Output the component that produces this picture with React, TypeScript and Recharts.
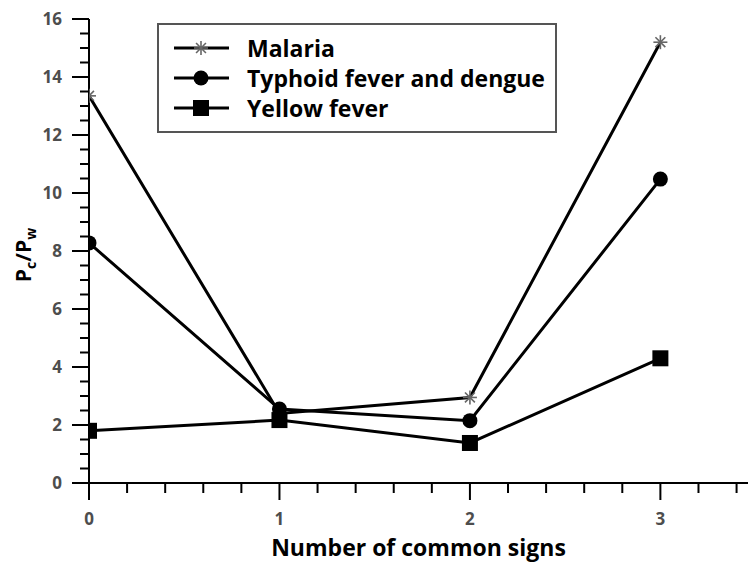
import { Legend, Line, LineChart, XAxis, YAxis } from "recharts";

const signs = [0, 1, 2, 3];
const malaria = [13.35, 2.4, 2.95, 15.2];
const typhoid = [8.28, 2.55, 2.15, 10.48];
const yellowFever = [1.8, 2.17, 1.38, 4.3];

const xTicks = [0, 0.2, 0.4, 0.6, 0.8, 1, 1.2, 1.4, 1.6, 1.8, 2, 2.2, 2.4, 2.6, 2.8, 3, 3.2, 3.4];
const yTicks = [
  0, 0.5, 1, 1.5, 2, 2.5, 3, 3.5, 4, 4.5, 5, 5.5, 6, 6.5, 7, 7.5, 8, 8.5, 9, 9.5, 10, 10.5, 11, 11.5, 12, 12.5, 13,
  13.5, 14, 14.5, 15, 15.5, 16,
];

const series = [
  { key: "malaria", name: "Malaria", shape: "star" },
  { key: "typhoid", name: "Typhoid fever and dengue", shape: "circle" },
  { key: "yellow", name: "Yellow fever", shape: "square" },
];

const data = signs.map((s, i) => ({ x: s, malaria: malaria[i], typhoid: typhoid[i], yellow: yellowFever[i] }));

const font = "'Open Sans', sans-serif";
const tickColor = "#4d4d4d";

function Marker({ shape, cx, cy }: { shape: string; cx: number; cy: number }) {
  if (shape === "circle") return <circle cx={cx} cy={cy} r={7.5} fill="#000" />;
  if (shape === "square") return <rect x={cx - 8} y={cy - 8} width={16} height={16} fill="#000" />;
  const r = 7;
  return (
    <g stroke="#666" strokeWidth={1.6}>
      {[0, 45, 90, 135].map((a) => {
        const dx = Math.cos((a * Math.PI) / 180) * r;
        const dy = Math.sin((a * Math.PI) / 180) * r;
        return <line key={a} x1={cx - dx} y1={cy - dy} x2={cx + dx} y2={cy + dy} />;
      })}
    </g>
  );
}

const isMajor = (v: number, step: number) => Math.abs(v / step - Math.round(v / step)) < 1e-6;

function XTick({ x, y, payload }: any) {
  const major = isMajor(payload.value, 1);
  return (
    <g>
      <line x1={x} y1={y} x2={x} y2={y + (major ? 17 : 10)} stroke="#000" strokeWidth={2} />
      {major && (
        <text x={x} y={y + 42} textAnchor="middle" fontSize={17} fontWeight={700} fontFamily={font} fill={tickColor}>
          {payload.value}
        </text>
      )}
    </g>
  );
}

function YTick({ x, y, payload }: any) {
  const major = isMajor(payload.value, 2);
  return (
    <g>
      <line x1={x - (major ? 17 : 9)} y1={y} x2={x} y2={y} stroke="#000" strokeWidth={2} />
      {major && (
        <text x={x - 27} y={y + 6} textAnchor="end" fontSize={17} fontWeight={700} fontFamily={font} fill={tickColor}>
          {payload.value}
        </text>
      )}
    </g>
  );
}

function LegendBox() {
  return (
    <div
      style={{
        width: 400,
        height: 110,
        boxSizing: "border-box",
        border: "2px solid #555",
        background: "#fff",
        paddingTop: 8,
        fontFamily: font,
        fontWeight: 700,
        fontSize: 23,
        color: "#000",
      }}
    >
      {series.map((s) => (
        <div key={s.key} style={{ display: "flex", alignItems: "center", height: 30 }}>
          <svg width={88} height={30} style={{ flex: "none" }}>
            <line x1={15} y1={15} x2={70} y2={15} stroke="#000" strokeWidth={3} />
            <Marker shape={s.shape} cx={42} cy={15} />
          </svg>
          <span style={{ lineHeight: "30px" }}>{s.name}</span>
        </div>
      ))}
    </div>
  );
}

export default function App() {
  return (
    <div style={{ position: "absolute", left: 0, top: 0, background: "#fff" }}>
      <LineChart width={748} height={563} data={data} margin={{ top: 19, right: 0, bottom: 0, left: 0 }}>
        <XAxis
          type="number"
          dataKey="x"
          domain={[0, 3.46]}
          ticks={xTicks}
          interval={0}
          allowDataOverflow
          height={80}
          tickSize={0}
          tickMargin={0}
          tickLine={false}
          tick={<XTick />}
          axisLine={{ stroke: "#000", strokeWidth: 2 }}
          label={{
            value: "Number of common signs",
            position: "insideBottom",
            offset: 7,
            style: { fontFamily: font, fontWeight: 700, fontSize: 23, fill: "#000" },
          }}
        />
        <YAxis
          type="number"
          domain={[0, 16]}
          ticks={yTicks}
          interval={0}
          width={89}
          tickSize={0}
          tickMargin={0}
          tickLine={false}
          tick={<YTick />}
          axisLine={{ stroke: "#000", strokeWidth: 2 }}
          label={{
            content: () => (
              <text
                transform="translate(31, 255) rotate(-90)"
                textAnchor="middle"
                fontFamily={font}
                fontWeight={700}
                fontSize={21}
                fill="#000"
              >
                P<tspan fontSize={14} dy={5}>c</tspan>
                <tspan dy={-5}>/P</tspan>
                <tspan fontSize={14} dy={5}>w</tspan>
              </text>
            ),
          }}
        />
        <Legend
          layout="vertical"
          align="center"
          verticalAlign="middle"
          content={<LegendBox />}
          wrapperStyle={{ position: "absolute", left: 157, top: 23, width: 400, height: 110 }}
        />
        {series.map((s) => (
          <Line
            key={s.key}
            dataKey={s.key}
            name={s.name}
            stroke="#000"
            strokeWidth={3}
            isAnimationActive={false}
            dot={(p: any) => <Marker key={p.index} shape={s.shape} cx={p.cx} cy={p.cy} />}
            activeDot={false}
          />
        ))}
      </LineChart>
    </div>
  );
}
